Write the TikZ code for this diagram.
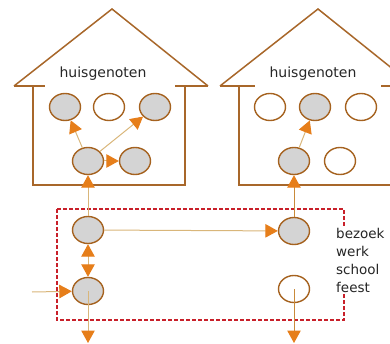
\documentclass[tikz,border=0pt]{standalone}
\usepackage{fontspec}
\setmainfont{DejaVu Sans}
\usetikzlibrary{arrows.meta,shapes.geometric}
\definecolor{housecol}{HTML}{A8672A}
\definecolor{circcol}{HTML}{A5621F}
\definecolor{grayfill}{HTML}{D4D4D4}
\definecolor{arrcol}{HTML}{E67E1A}
\definecolor{linecol}{HTML}{D9B67A}
\definecolor{linedark}{HTML}{C98A3A}
\definecolor{dashcol}{HTML}{C8202A}
\begin{document}
\begin{tikzpicture}[x=1pt,y=-1pt,
  house/.style={draw=housecol,line width=1.5pt},
  person/.style={ellipse,draw=circcol,line width=1.4pt,minimum width=31pt,minimum height=27pt,inner sep=0pt,fill=white},
  grayp/.style={person,fill=grayfill},
  conn/.style={draw=linecol,line width=1pt,-{Triangle[length=12.5pt,width=13.5pt,color=arrcol]}},
  conndark/.style={conn,draw=linedark},
  biconn/.style={draw=linecol,line width=1pt,{Triangle[length=12.5pt,width=13.5pt,color=arrcol]}-{Triangle[length=12.5pt,width=13.5pt,color=arrcol]}},
  label/.style={font=\fontsize{14}{16}\selectfont,text=black!85}
]
\useasboundingbox (0,0) rectangle (390,344);
% houses
\draw[house] (14,86) -- (112,9) -- (208,86);
\draw[house] (14,86) -- (45,86);
\draw[house] (175,86) -- (208,86);
\draw[house] (33,86) -- (33,185) -- (185,185) -- (185,86);
\draw[house] (220,86) -- (318,9) -- (414,86);
\draw[house] (220,86) -- (255,86);
\draw[house] (381,86) -- (414,86);
\draw[house] (239,86) -- (239,185) -- (391,185) -- (391,86);
\node[label] (h1) at (103,74) {huisgenoten};
\node[label] (h2) at (313,74) {huisgenoten};
% dashed region
\draw[draw=dashcol,line width=1.1pt,dash pattern=on 4pt off 2pt] (57,209) rectangle (344,320);
\node[font=\fontsize{13.5}{18}\selectfont,align=left,anchor=west,fill=white,inner sep=2pt,text=black!85] (txt) at (334,260) {bezoek\\werk\\school\\feest};
% persons
\node[grayp] (L1) at (65,107) {};
\node[person] (L2) at (109,107) {};
\node[grayp] (L3) at (155,107) {};
\node[grayp] (L4) at (88,161) {};
\node[grayp] (L5) at (135,161) {};
\node[person] (R1) at (270,107) {};
\node[grayp] (R2) at (315,107) {};
\node[person] (R3) at (361,107) {};
\node[grayp] (R4) at (294,161) {};
\node[person] (R5) at (340,161) {};
\node[grayp] (A) at (88,230) {};
\node[grayp] (B) at (88,291) {};
\node[grayp] (C) at (294,231) {};
\node[person] (D) at (294,289) {};
\coordinate (in) at (32,292);
\coordinate (out1) at (88,343);
\coordinate (out2) at (294,343);
% connectors
\draw[conn] (L4) -- (L1);
\draw[conn] (L4) -- (L3);
\draw[conn] (L4) -- (L5);
\draw[conn] (R4) -- (R2);
\draw[conn] (A) -- (L4);
\draw[conndark] (C) -- (R4);
\draw[conn] (A) -- (C);
\draw[biconn] (A) -- (B);
\draw[conn] (in) -- (B);
\draw[conn] (B.center) -- (out1);
\draw[conndark] (D.center) -- (out2);
\end{tikzpicture}
\end{document}
